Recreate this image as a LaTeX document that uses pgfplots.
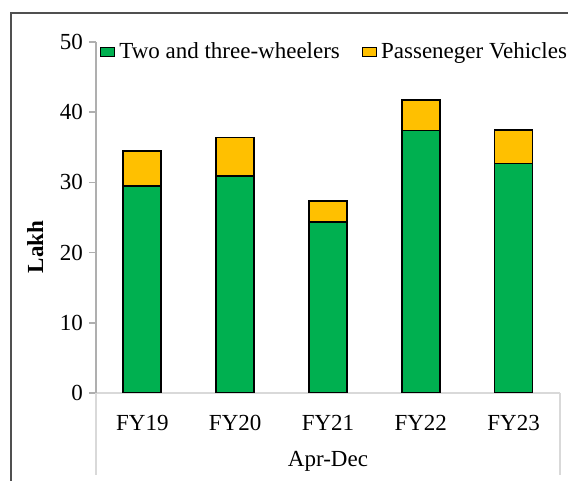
\documentclass[border=0pt]{standalone}
\usepackage{fontspec}
\setmainfont{Liberation Serif}
\usepackage{pgfplots}
\pgfplotsset{compat=1.18}
\definecolor{twogreen}{RGB}{0,176,80}
\definecolor{pvyellow}{RGB}{255,192,0}
\definecolor{axisgray}{RGB}{175,175,175}
\definecolor{catgray}{RGB}{217,217,217}
\definecolor{framegray}{RGB}{80,80,80}

\begin{document}
\begin{tikzpicture}[font=\fontsize{11.5}{13.5}\selectfont]
\path[use as bounding box] (-48pt,-44pt) rectangle (236pt,196.5pt);
\begin{scope}
  \clip (-48pt,-44pt) rectangle (236pt,196.5pt);
  \draw[framegray, line width=0.6pt] (-42.5pt,-60pt) -- (-42.5pt,190pt) -- (260pt,190pt);
\end{scope}
\begin{axis}[
  at={(0pt,0pt)}, anchor=south west,
  scale only axis, width=232pt, height=175.5pt,
  ybar stacked, bar width=19pt,
  xmin=-0.5, xmax=4.5, ymin=0, ymax=50,
  xtick=data, xticklabels={FY19,FY20,FY21,FY22,FY23},
  ytick={0,10,...,50},
  axis x line*=bottom, axis y line*=left,
  x axis line style={draw=catgray, line width=0.75pt},
  y axis line style={draw=axisgray, line width=0.75pt},
  xtick style={draw=none},
  ytick style={draw=axisgray, line width=0.75pt},
  tick align=outside, major tick length=3.5pt,
  /pgf/number format/assume math mode=true,
  xticklabel style={yshift=-4pt},
  yticklabel style={xshift=0.5pt},
  ylabel={\textbf{Lakh}},
  ylabel style={at={(axis description cs:-0.131,0.416)}, anchor=center},
  xlabel={Apr-Dec},
  xlabel style={at={(axis description cs:0.5,0)}, anchor=center, yshift=-34pt},
  legend image code/.code={\draw[#1, line width=0.6pt] (0pt,-2.4pt) rectangle (7pt,2.4pt);},
  legend style={draw=none, fill=none, legend columns=2,
    at={(axis description cs:0.008,0.9715)}, anchor=west, inner sep=0pt,
    /tikz/every even column/.append style={column sep=9pt}},
  legend cell align=left,
  extra description/.code={
    \draw[catgray, line width=0.75pt] (axis description cs:0,0) -- ++(0pt,-41pt);
    \draw[catgray, line width=0.75pt] (axis description cs:1,0) -- ++(0pt,-41pt);
  },
]
\addplot[fill=twogreen, draw=black, line width=0.9pt]
  coordinates {(0,29.5) (1,30.9) (2,24.4) (3,37.4) (4,32.7)};
\addplot[fill=pvyellow, draw=black, line width=0.9pt]
  coordinates {(0,5.0) (1,5.5) (2,2.95) (3,4.3) (4,4.8)};
\legend{Two and three-wheelers, Passeneger Vehicles}
\end{axis}
\end{tikzpicture}
\end{document}
